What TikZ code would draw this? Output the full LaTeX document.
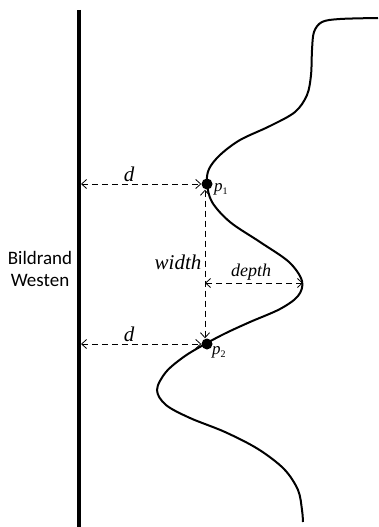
\documentclass[tikz,border=0pt]{standalone}
\usepackage{fontspec}
\setmainfont{Liberation Serif}
\newfontfamily\labelfont{Carlito}
\usetikzlibrary{arrows.meta}
\begin{document}
\begin{tikzpicture}[x=1pt,y=-1pt,
  dim/.style={dash pattern=on 6pt off 4pt, line width=0.8pt,
    {Straight Barb[length=5pt,width=9pt]}-{Straight Barb[length=5pt,width=9pt]}},
  dot/.style={circle, fill=black, inner sep=0pt, minimum size=11pt},
  lbl/.style={inner sep=0pt},
  border/.style={line width=3.5pt},
  coast/.style={line width=2pt}]
\useasboundingbox (0,0) rectangle (378,527);
% left border
\coordinate (btop) at (79,10);
\coordinate (bbot) at (79,527);
\draw[border] (btop) -- (bbot);
\node[align=center, font=\labelfont\fontsize{19}{22}\selectfont] (rand) at (40,269) {Bildrand\\Westen};
% coastline
\draw[coast] plot[smooth, tension=0.55] coordinates {
 (378,18) (340,19) (322,22) (314,32) (312,50) (311,75) (307,95) (295,112)
 (270,126) (240,140) (220,155) (209,169) (207,183) (212,202) (230,222)
 (260,242) (289,262) (302,281) (298,296) (280,309) (250,322) (226,333)
 (207,343) (185,356) (166,372) (157,390) (166,405) (190,418) (225,432)
 (258,449) (284,469) (298,490) (302,510) (303,522)};
% points
\node[dot] (p1) at (207,184) {};
\node[dot] (p2) at (207,344) {};
\coordinate (l1) at (81,184);
\coordinate (l2) at (81,344);
\coordinate (dp) at (205,283);
\coordinate (dq) at (303,283);
% dimensions
\draw[dim] (l1) -- (p1.west);
\draw[dim] (l2) -- (p2.west);
\draw[dim] (p1.south -| dp) -- (p2.north -| dp);
\draw[dim] (dp) -- (dq);
% labels
\node[lbl, font=\itshape\fontsize{21}{21}\selectfont] (d1) at (129,174) {d};
\node[lbl, font=\itshape\fontsize{21}{21}\selectfont] (d2) at (129,334) {d};
\node[lbl, font=\fontsize{17}{17}\selectfont, anchor=west] (lp1) at (214,189) {\textit{p}\raisebox{-3pt}{\fontsize{10}{10}\selectfont 1}};
\node[lbl, font=\fontsize{17}{17}\selectfont, anchor=west] (lp2) at (212,352) {\textit{p}\raisebox{-3pt}{\fontsize{10}{10}\selectfont 2}};
\node[lbl, font=\itshape\fontsize{21}{21}\selectfont] (w) at (178,262) {width};
\node[lbl, font=\itshape\fontsize{18}{18}\selectfont] (dep) at (251,272) {depth};
\end{tikzpicture}
\end{document}
